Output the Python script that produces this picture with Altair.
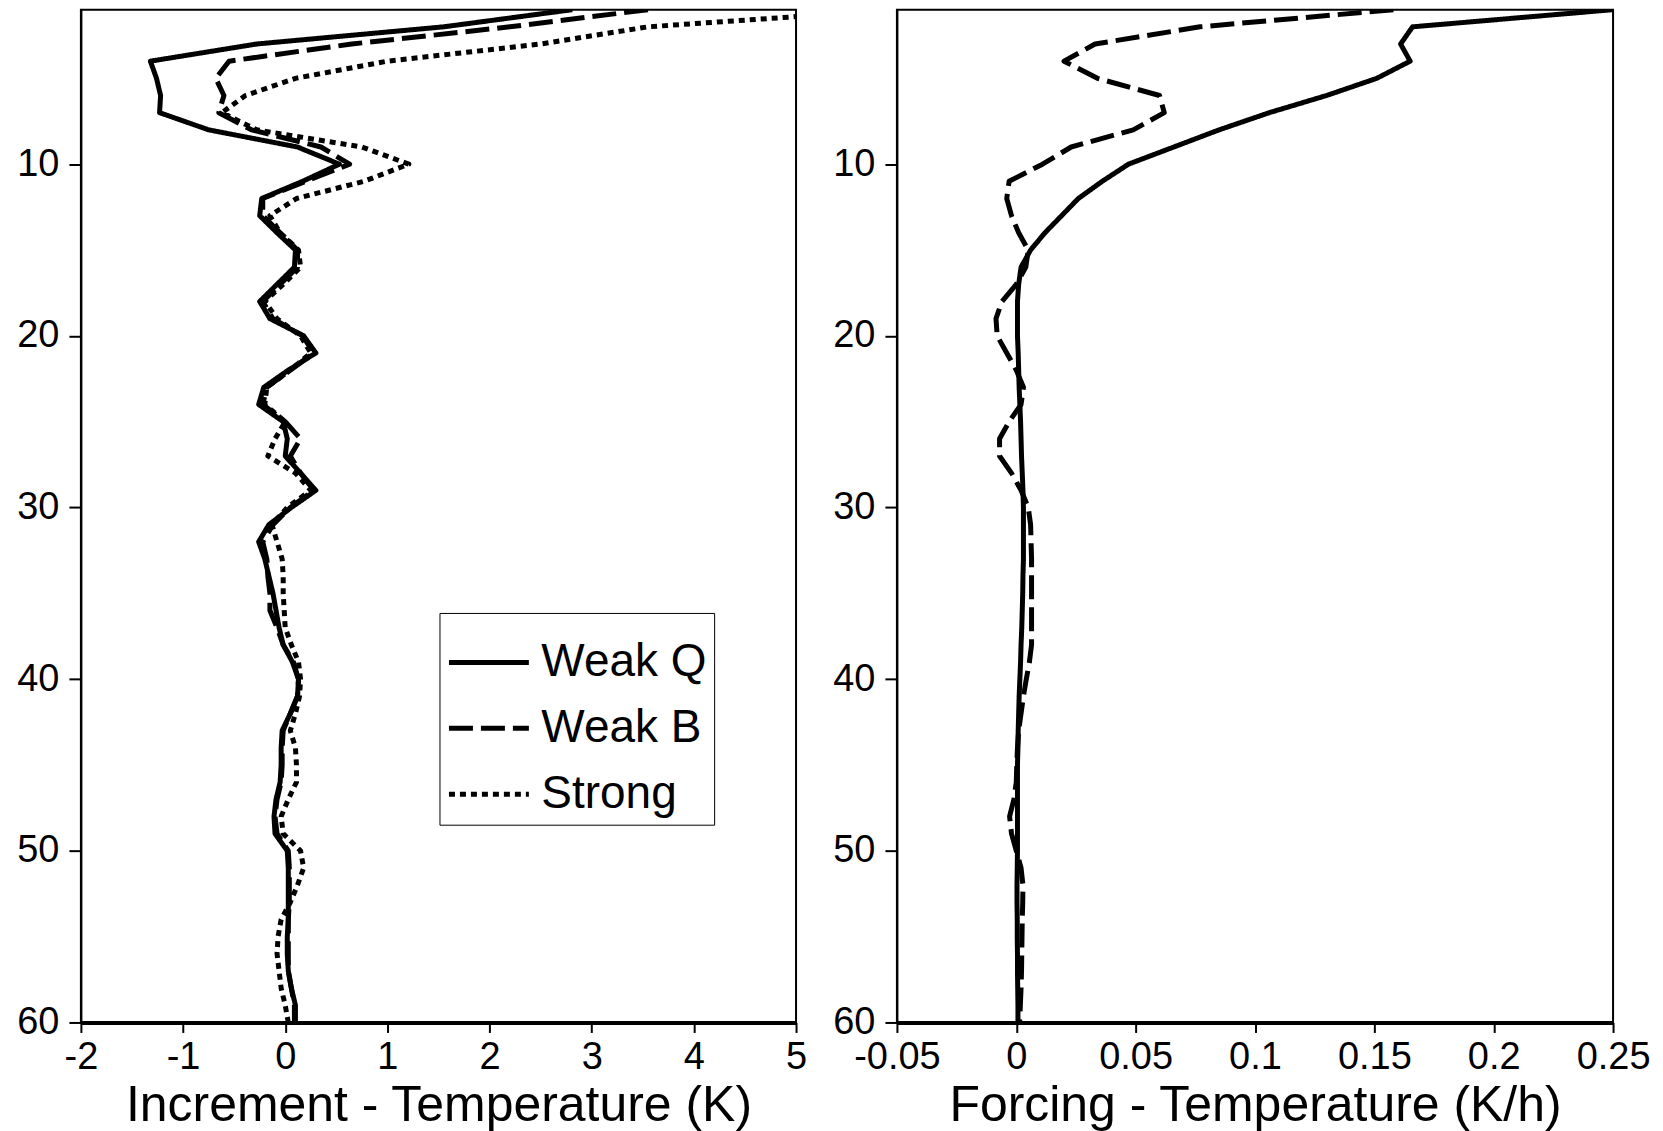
import altair as alt
import pandas as pd

levels = list(range(1, 61))

# Left panel: Increment - Temperature (K)
inc_weak_q = [2.81, 1.55, -0.28, -1.32, -1.26, -1.22, -1.23, -0.75, 0.12, 0.53,
              0.17, -0.23, -0.25, -0.08, 0.10, 0.09, -0.08, -0.25, -0.15, 0.18,
              0.30, 0.03, -0.21, -0.26, -0.02, 0.02, 0.00, 0.15, 0.30, 0.06,
              -0.16, -0.26, -0.20, -0.16, -0.12, -0.09, -0.06, -0.02, 0.07, 0.13,
              0.12, 0.05, -0.03, -0.04, -0.04, -0.05, -0.09, -0.11, -0.10, 0.02,
              0.03, 0.03, 0.03, 0.03, 0.02, 0.02, 0.03, 0.06, 0.10, 0.10]
inc_weak_b = [3.55, 2.20, 0.65, -0.55, -0.68, -0.60, -0.65, -0.33, 0.35, 0.63,
              0.20, -0.22, -0.22, -0.05, 0.12, 0.12, -0.05, -0.22, -0.12, 0.17,
              0.28, 0.05, -0.18, -0.22, 0.00, 0.15, 0.05, 0.15, 0.28, 0.05,
              -0.12, -0.22, -0.18, -0.17, -0.15, -0.15, -0.08, -0.02, 0.08, 0.13,
              0.12, 0.05, -0.02, -0.03, -0.03, -0.04, -0.08, -0.10, -0.08, 0.03,
              0.04, 0.04, 0.04, 0.03, 0.03, 0.03, 0.03, 0.06, 0.09, 0.09]
inc_strong = [6.00, 3.55, 2.50, 1.00, 0.10, -0.39, -0.62, -0.28, 0.75, 1.21,
              0.77, 0.11, -0.15, -0.05, 0.13, 0.15, -0.02, -0.20, -0.08, 0.15,
              0.25, 0.05, -0.18, -0.20, 0.00, -0.10, -0.17, 0.10, 0.25, 0.02,
              -0.13, -0.08, -0.03, -0.02, -0.02, -0.01, 0.00, 0.06, 0.13, 0.15,
              0.14, 0.10, 0.05, 0.10, 0.11, 0.11, 0.03, -0.04, -0.02, 0.15,
              0.18, 0.12, 0.05, -0.04, -0.07, -0.08, -0.06, -0.04, 0.00, 0.03]

# Right panel: Forcing - Temperature (K/h)
frc_weak_q = [0.250, 0.166, 0.161, 0.165, 0.151, 0.130, 0.106, 0.085, 0.066, 0.047,
              0.036, 0.026, 0.019, 0.012, 0.006, 0.002, 0.001, 0.0005, 0.0005, 0.0005,
              0.0008, 0.0010, 0.0012, 0.0015, 0.0018, 0.0020, 0.0022, 0.0025, 0.0028, 0.0030,
              0.0030, 0.0030, 0.0030, 0.0028, 0.0027, 0.0025, 0.0023, 0.0020, 0.0018, 0.0015,
              0.0012, 0.0010, 0.0008, 0.0007, 0.0005, 0.0005, 0.0005, 0.0005, 0.0005, 0.0005,
              0.0004, 0.0003, 0.0003, 0.0004, 0.0004, 0.0005, 0.0005, 0.0006, 0.0007, 0.0007]
frc_weak_b = [0.158, 0.077, 0.033, 0.020, 0.034, 0.060, 0.062, 0.049, 0.023, 0.011,
              -0.003, -0.004, -0.002, 0.001, 0.005, 0.004, 0.000, -0.006, -0.0085, -0.008,
              -0.004, 0.000, 0.003, 0.002, -0.003, -0.007, -0.007, -0.002, 0.002, 0.005,
              0.006, 0.0062, 0.0064, 0.0064, 0.0064, 0.0064, 0.0064, 0.0064, 0.0055, 0.0042,
              0.003, 0.002, 0.001, 0.0005, 0.0002, 0.000, -0.001, -0.0028, -0.002, 0.000,
              0.002, 0.0028, 0.0027, 0.0025, 0.0024, 0.0023, 0.0022, 0.0020, 0.0017, 0.0014]

series_names = ["Weak Q", "Weak B", "Strong"]
dash_range = [[1, 0], [24, 8], [6, 5]]
y_ticks = [10, 20, 30, 40, 50, 60]
x_ticks_left = [-2, -1, 0, 1, 2, 3, 4, 5]
x_ticks_right = [-0.05, 0, 0.05, 0.1, 0.15, 0.2, 0.25]

def long(series_dict):
    rows = []
    for name, vals in series_dict.items():
        for lev, v in zip(levels, vals):
            rows.append({"series": name, "level": lev, "value": v})
    return pd.DataFrame(rows)

left_df = long({"Weak Q": inc_weak_q, "Weak B": inc_weak_b, "Strong": inc_strong})
right_df = long({"Weak Q": frc_weak_q, "Weak B": frc_weak_b})

FONT = "Liberation Sans"

y_enc = alt.Y("level:Q",
              scale=alt.Scale(domain=[1, 60], reverse=True, nice=False, zero=False),
              axis=alt.Axis(values=y_ticks, title=None, tickSize=12, labelPadding=10))

left = alt.Chart(left_df).mark_line(strokeWidth=5, color="black", clip=True,
                                    strokeCap="butt", strokeJoin="round").encode(
    x=alt.X("value:Q", scale=alt.Scale(domain=[-2, 5], nice=False, zero=False),
            axis=alt.Axis(values=x_ticks_left,
                          labelExpr="toString(datum.value)",
                          title="Increment - Temperature (K)")),
    y=y_enc,
    order=alt.Order("level:Q"),
    strokeDash=alt.StrokeDash("series:N",
        scale=alt.Scale(domain=series_names, range=dash_range),
        legend=alt.Legend(title=None, orient="none", legendX=359, legendY=604,
                          symbolType="stroke", symbolSize=6400, symbolStrokeWidth=5,
                          symbolStrokeColor="black",
                          labelFontSize=46, labelFont=FONT, labelColor="black",
                          labelExpr="datum.label + '  '", labelLimit=0,
                          labelOffset=10, rowPadding=-15, padding=7,
                          strokeColor="black", fillColor="white")),
).properties(width=716, height=1014)

right = alt.Chart(right_df).mark_line(strokeWidth=5, color="black", clip=True,
                                      strokeCap="butt", strokeJoin="round").encode(
    x=alt.X("value:Q", scale=alt.Scale(domain=[-0.05, 0.25], nice=False, zero=False),
            axis=alt.Axis(values=x_ticks_right,
                          labelExpr="toString(datum.value)",
                          title="Forcing - Temperature (K/h)")),
    y=y_enc,
    order=alt.Order("level:Q"),
    strokeDash=alt.StrokeDash("series:N",
        scale=alt.Scale(domain=["Weak Q", "Weak B"], range=[[1, 0], [24, 8]]),
        legend=None),
).properties(width=717, height=1014)

chart = alt.hconcat(left, right, spacing=101, bounds="flush").resolve_scale(
    strokeDash="independent", x="independent"
).resolve_legend(strokeDash="independent").properties(
    padding={"left": 15, "top": 8, "right": 12, "bottom": 3},
    background="white",
).configure_view(
    stroke="black", strokeWidth=2
).configure_axis(
    grid=False, domainColor="black", domainWidth=2, tickColor="black", tickWidth=2,
    labelColor="black", titleColor="black", labelFont=FONT, titleFont=FONT,
    labelFontSize=38, titleFontSize=50, titleFontWeight="normal",
).configure_axisX(
    tickSize=10, labelPadding=6, titlePadding=4, domainWidth=4,
    labelFlush=False, labelOverlap=False
)

chart.save("out.html", embed_options={"renderer": "svg", "actions": False})
